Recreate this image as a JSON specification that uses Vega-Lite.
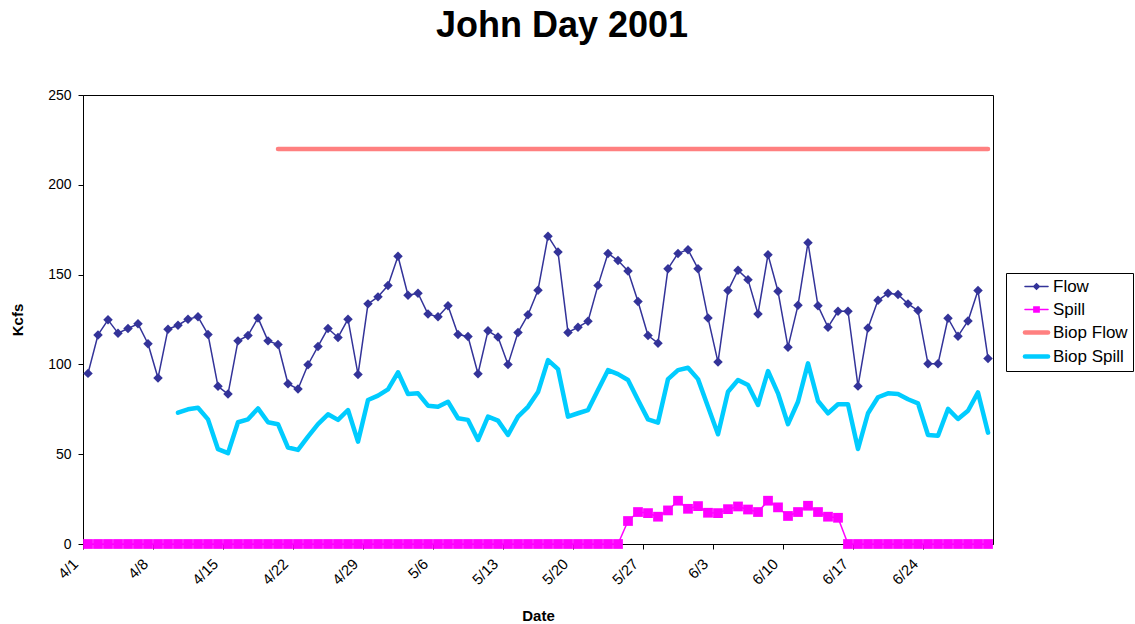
{
  "$schema": "https://vega.github.io/schema/vega-lite/v6.json",
  "width": 910,
  "height": 449,
  "autosize": {"type": "none"},
  "padding": {"left": 83, "top": 95, "right": 142, "bottom": 80},
  "background": "white",
  "title": {"text": "John Day 2001", "font": "Liberation Sans", "fontSize": 36, "fontWeight": "bold", "color": "black", "anchor": "middle", "frame": "group", "dx": 24, "baseline": "alphabetic", "offset": 15},
  "config": {
    "view": {"stroke": "black", "strokeWidth": 1},
    "axis": {"grid": false, "domainColor": "black", "tickColor": "black", "tickSize": 5, "labelColor": "black", "labelFont": "Liberation Sans", "labelFontSize": 14, "titleFont": "Liberation Sans", "titleFontSize": 15, "titleFontWeight": "bold", "titleColor": "black"}
  },
  "data": {"values": [
    {"date": "2001-04-01T12:00:00Z", "Flow": 95.0, "Spill": 0},
    {"date": "2001-04-02T12:00:00Z", "Flow": 116.4, "Spill": 0},
    {"date": "2001-04-03T12:00:00Z", "Flow": 124.8, "Spill": 0},
    {"date": "2001-04-04T12:00:00Z", "Flow": 117.4, "Spill": 0},
    {"date": "2001-04-05T12:00:00Z", "Flow": 120.0, "Spill": 0},
    {"date": "2001-04-06T12:00:00Z", "Flow": 122.6, "Spill": 0},
    {"date": "2001-04-07T12:00:00Z", "Flow": 111.5, "Spill": 0},
    {"date": "2001-04-08T12:00:00Z", "Flow": 92.4, "Spill": 0},
    {"date": "2001-04-09T12:00:00Z", "Flow": 119.6, "Spill": 0},
    {"date": "2001-04-10T12:00:00Z", "Flow": 121.8, "Spill": 0, "Biop Spill": 73.1},
    {"date": "2001-04-11T12:00:00Z", "Flow": 125.2, "Spill": 0, "Biop Spill": 75.0},
    {"date": "2001-04-12T12:00:00Z", "Flow": 126.5, "Spill": 0, "Biop Spill": 75.9},
    {"date": "2001-04-13T12:00:00Z", "Flow": 116.7, "Spill": 0, "Biop Spill": 69.4},
    {"date": "2001-04-14T12:00:00Z", "Flow": 87.8, "Spill": 0, "Biop Spill": 52.8},
    {"date": "2001-04-15T12:00:00Z", "Flow": 83.5, "Spill": 0, "Biop Spill": 50.6},
    {"date": "2001-04-16T12:00:00Z", "Flow": 113.1, "Spill": 0, "Biop Spill": 67.8},
    {"date": "2001-04-17T12:00:00Z", "Flow": 116.1, "Spill": 0, "Biop Spill": 69.4},
    {"date": "2001-04-18T12:00:00Z", "Flow": 125.9, "Spill": 0, "Biop Spill": 75.5},
    {"date": "2001-04-19T12:00:00Z", "Flow": 113.1, "Spill": 0, "Biop Spill": 67.8},
    {"date": "2001-04-20T12:00:00Z", "Flow": 111.1, "Spill": 0, "Biop Flow": 220, "Biop Spill": 66.7},
    {"date": "2001-04-21T12:00:00Z", "Flow": 89.2, "Spill": 0, "Biop Flow": 220, "Biop Spill": 53.7},
    {"date": "2001-04-22T12:00:00Z", "Flow": 86.3, "Spill": 0, "Biop Flow": 220, "Biop Spill": 52.4},
    {"date": "2001-04-23T12:00:00Z", "Flow": 99.8, "Spill": 0, "Biop Flow": 220, "Biop Spill": 59.8},
    {"date": "2001-04-24T12:00:00Z", "Flow": 110.0, "Spill": 0, "Biop Flow": 220, "Biop Spill": 66.8},
    {"date": "2001-04-25T12:00:00Z", "Flow": 120.0, "Spill": 0, "Biop Flow": 220, "Biop Spill": 72.2},
    {"date": "2001-04-26T12:00:00Z", "Flow": 115.0, "Spill": 0, "Biop Flow": 220, "Biop Spill": 69.1},
    {"date": "2001-04-27T12:00:00Z", "Flow": 125.2, "Spill": 0, "Biop Flow": 220, "Biop Spill": 74.6},
    {"date": "2001-04-28T12:00:00Z", "Flow": 94.4, "Spill": 0, "Biop Flow": 220, "Biop Spill": 57.0},
    {"date": "2001-04-29T12:00:00Z", "Flow": 133.7, "Spill": 0, "Biop Flow": 220, "Biop Spill": 80.2},
    {"date": "2001-04-30T12:00:00Z", "Flow": 137.6, "Spill": 0, "Biop Flow": 220, "Biop Spill": 82.6},
    {"date": "2001-05-01T12:00:00Z", "Flow": 143.9, "Spill": 0, "Biop Flow": 220, "Biop Spill": 86.1},
    {"date": "2001-05-02T12:00:00Z", "Flow": 160.2, "Spill": 0, "Biop Flow": 220, "Biop Spill": 95.6},
    {"date": "2001-05-03T12:00:00Z", "Flow": 138.5, "Spill": 0, "Biop Flow": 220, "Biop Spill": 83.5},
    {"date": "2001-05-04T12:00:00Z", "Flow": 139.6, "Spill": 0, "Biop Flow": 220, "Biop Spill": 83.9},
    {"date": "2001-05-05T12:00:00Z", "Flow": 128.0, "Spill": 0, "Biop Flow": 220, "Biop Spill": 77.0},
    {"date": "2001-05-06T12:00:00Z", "Flow": 126.5, "Spill": 0, "Biop Flow": 220, "Biop Spill": 76.4},
    {"date": "2001-05-07T12:00:00Z", "Flow": 132.6, "Spill": 0, "Biop Flow": 220, "Biop Spill": 79.2},
    {"date": "2001-05-08T12:00:00Z", "Flow": 116.7, "Spill": 0, "Biop Flow": 220, "Biop Spill": 70.0},
    {"date": "2001-05-09T12:00:00Z", "Flow": 115.5, "Spill": 0, "Biop Flow": 220, "Biop Spill": 69.1},
    {"date": "2001-05-10T12:00:00Z", "Flow": 94.8, "Spill": 0, "Biop Flow": 220, "Biop Spill": 57.9},
    {"date": "2001-05-11T12:00:00Z", "Flow": 118.7, "Spill": 0, "Biop Flow": 220, "Biop Spill": 70.9},
    {"date": "2001-05-12T12:00:00Z", "Flow": 115.2, "Spill": 0, "Biop Flow": 220, "Biop Spill": 68.7},
    {"date": "2001-05-13T12:00:00Z", "Flow": 100.0, "Spill": 0, "Biop Flow": 220, "Biop Spill": 60.7},
    {"date": "2001-05-14T12:00:00Z", "Flow": 117.8, "Spill": 0, "Biop Flow": 220, "Biop Spill": 70.9},
    {"date": "2001-05-15T12:00:00Z", "Flow": 127.6, "Spill": 0, "Biop Flow": 220, "Biop Spill": 76.4},
    {"date": "2001-05-16T12:00:00Z", "Flow": 141.3, "Spill": 0, "Biop Flow": 220, "Biop Spill": 84.6},
    {"date": "2001-05-17T12:00:00Z", "Flow": 171.4, "Spill": 0, "Biop Flow": 220, "Biop Spill": 102.4},
    {"date": "2001-05-18T12:00:00Z", "Flow": 162.6, "Spill": 0, "Biop Flow": 220, "Biop Spill": 97.4},
    {"date": "2001-05-19T12:00:00Z", "Flow": 117.8, "Spill": 0, "Biop Flow": 220, "Biop Spill": 70.9},
    {"date": "2001-05-20T12:00:00Z", "Flow": 120.7, "Spill": 0, "Biop Flow": 220, "Biop Spill": 72.8},
    {"date": "2001-05-21T12:00:00Z", "Flow": 124.0, "Spill": 0, "Biop Flow": 220, "Biop Spill": 74.6},
    {"date": "2001-05-22T12:00:00Z", "Flow": 144.0, "Spill": 0, "Biop Flow": 220, "Biop Spill": 85.7},
    {"date": "2001-05-23T12:00:00Z", "Flow": 161.8, "Spill": 0, "Biop Flow": 220, "Biop Spill": 96.8},
    {"date": "2001-05-24T12:00:00Z", "Flow": 157.8, "Spill": 0, "Biop Flow": 220, "Biop Spill": 94.6},
    {"date": "2001-05-25T12:00:00Z", "Flow": 152.0, "Spill": 12.8, "Biop Flow": 220, "Biop Spill": 91.3},
    {"date": "2001-05-26T12:00:00Z", "Flow": 135.0, "Spill": 17.8, "Biop Flow": 220, "Biop Spill": 80.2},
    {"date": "2001-05-27T12:00:00Z", "Flow": 116.1, "Spill": 17.2, "Biop Flow": 220, "Biop Spill": 69.4},
    {"date": "2001-05-28T12:00:00Z", "Flow": 111.8, "Spill": 15.2, "Biop Flow": 220, "Biop Spill": 67.6},
    {"date": "2001-05-29T12:00:00Z", "Flow": 153.3, "Spill": 18.7, "Biop Flow": 220, "Biop Spill": 91.8},
    {"date": "2001-05-30T12:00:00Z", "Flow": 161.8, "Spill": 24.1, "Biop Flow": 220, "Biop Spill": 96.8},
    {"date": "2001-05-31T12:00:00Z", "Flow": 163.9, "Spill": 19.6, "Biop Flow": 220, "Biop Spill": 98.1},
    {"date": "2001-06-01T12:00:00Z", "Flow": 153.3, "Spill": 21.1, "Biop Flow": 220, "Biop Spill": 91.8},
    {"date": "2001-06-02T12:00:00Z", "Flow": 125.9, "Spill": 17.4, "Biop Flow": 220, "Biop Spill": 76.4},
    {"date": "2001-06-03T12:00:00Z", "Flow": 101.3, "Spill": 17.2, "Biop Flow": 220, "Biop Spill": 61.1},
    {"date": "2001-06-04T12:00:00Z", "Flow": 141.1, "Spill": 19.4, "Biop Flow": 220, "Biop Spill": 84.8},
    {"date": "2001-06-05T12:00:00Z", "Flow": 152.4, "Spill": 20.9, "Biop Flow": 220, "Biop Spill": 91.3},
    {"date": "2001-06-06T12:00:00Z", "Flow": 147.2, "Spill": 19.2, "Biop Flow": 220, "Biop Spill": 88.5},
    {"date": "2001-06-07T12:00:00Z", "Flow": 128.1, "Spill": 17.8, "Biop Flow": 220, "Biop Spill": 77.4},
    {"date": "2001-06-08T12:00:00Z", "Flow": 161.1, "Spill": 24.1, "Biop Flow": 220, "Biop Spill": 96.3},
    {"date": "2001-06-09T12:00:00Z", "Flow": 140.7, "Spill": 20.4, "Biop Flow": 220, "Biop Spill": 83.9},
    {"date": "2001-06-10T12:00:00Z", "Flow": 109.6, "Spill": 15.6, "Biop Flow": 220, "Biop Spill": 66.7},
    {"date": "2001-06-11T12:00:00Z", "Flow": 132.9, "Spill": 17.8, "Biop Flow": 220, "Biop Spill": 79.2},
    {"date": "2001-06-12T12:00:00Z", "Flow": 167.8, "Spill": 21.3, "Biop Flow": 220, "Biop Spill": 100.6},
    {"date": "2001-06-13T12:00:00Z", "Flow": 132.6, "Spill": 17.8, "Biop Flow": 220, "Biop Spill": 79.6},
    {"date": "2001-06-14T12:00:00Z", "Flow": 120.7, "Spill": 15.2, "Biop Flow": 220, "Biop Spill": 72.8},
    {"date": "2001-06-15T12:00:00Z", "Flow": 129.6, "Spill": 14.6, "Biop Flow": 220, "Biop Spill": 77.8},
    {"date": "2001-06-16T12:00:00Z", "Flow": 129.6, "Spill": 0, "Biop Flow": 220, "Biop Spill": 77.8},
    {"date": "2001-06-17T12:00:00Z", "Flow": 87.9, "Spill": 0, "Biop Flow": 220, "Biop Spill": 52.9},
    {"date": "2001-06-18T12:00:00Z", "Flow": 120.3, "Spill": 0, "Biop Flow": 220, "Biop Spill": 72.8},
    {"date": "2001-06-19T12:00:00Z", "Flow": 135.7, "Spill": 0, "Biop Flow": 220, "Biop Spill": 81.7},
    {"date": "2001-06-20T12:00:00Z", "Flow": 139.6, "Spill": 0, "Biop Flow": 220, "Biop Spill": 83.9},
    {"date": "2001-06-21T12:00:00Z", "Flow": 138.9, "Spill": 0, "Biop Flow": 220, "Biop Spill": 83.5},
    {"date": "2001-06-22T12:00:00Z", "Flow": 133.7, "Spill": 0, "Biop Flow": 220, "Biop Spill": 80.6},
    {"date": "2001-06-23T12:00:00Z", "Flow": 130.0, "Spill": 0, "Biop Flow": 220, "Biop Spill": 78.3},
    {"date": "2001-06-24T12:00:00Z", "Flow": 100.3, "Spill": 0, "Biop Flow": 220, "Biop Spill": 60.7},
    {"date": "2001-06-25T12:00:00Z", "Flow": 100.3, "Spill": 0, "Biop Flow": 220, "Biop Spill": 60.3},
    {"date": "2001-06-26T12:00:00Z", "Flow": 125.7, "Spill": 0, "Biop Flow": 220, "Biop Spill": 75.2},
    {"date": "2001-06-27T12:00:00Z", "Flow": 115.7, "Spill": 0, "Biop Flow": 220, "Biop Spill": 69.6},
    {"date": "2001-06-28T12:00:00Z", "Flow": 124.2, "Spill": 0, "Biop Flow": 220, "Biop Spill": 74.2},
    {"date": "2001-06-29T12:00:00Z", "Flow": 141.1, "Spill": 0, "Biop Flow": 220, "Biop Spill": 84.4},
    {"date": "2001-06-30T12:00:00Z", "Flow": 103.3, "Spill": 0, "Biop Flow": 220, "Biop Spill": 62.0}
  ]},
  "transform": [
    {"fold": ["Flow", "Spill", "Biop Flow", "Biop Spill"], "as": ["series", "value"]},
    {"filter": "isValid(datum.value)"}
  ],
  "encoding": {
    "x": {
      "field": "date", "type": "temporal",
      "scale": {"type": "utc", "domain": [{"year": 2001, "month": 4, "date": 1, "utc": true}, {"year": 2001, "month": 7, "date": 1, "utc": true}]},
      "axis": {
        "title": "Date", "titlePadding": 21,
        "values": [
          {"year": 2001, "month": 4, "date": 1, "utc": true},
          {"year": 2001, "month": 4, "date": 8, "utc": true},
          {"year": 2001, "month": 4, "date": 15, "utc": true},
          {"year": 2001, "month": 4, "date": 22, "utc": true},
          {"year": 2001, "month": 4, "date": 29, "utc": true},
          {"year": 2001, "month": 5, "date": 6, "utc": true},
          {"year": 2001, "month": 5, "date": 13, "utc": true},
          {"year": 2001, "month": 5, "date": 20, "utc": true},
          {"year": 2001, "month": 5, "date": 27, "utc": true},
          {"year": 2001, "month": 6, "date": 3, "utc": true},
          {"year": 2001, "month": 6, "date": 10, "utc": true},
          {"year": 2001, "month": 6, "date": 17, "utc": true},
          {"year": 2001, "month": 6, "date": 24, "utc": true}
        ],
        "labelExpr": "utcFormat(datum.value, '%-m/%-d')",
        "labelFontSize": 15,
        "labelAngle": -45, "labelAlign": "right", "labelBaseline": "middle", "labelPadding": 12, "labelOffset": -8
      }
    },
    "y": {
      "field": "value", "type": "quantitative",
      "scale": {"domain": [0, 250]},
      "axis": {"title": "Kcfs", "values": [0, 50, 100, 150, 200, 250], "labelPadding": 7, "titlePadding": 22}
    },
    "color": {
      "field": "series", "type": "nominal",
      "scale": {"domain": ["Flow", "Spill", "Biop Flow", "Biop Spill"], "range": ["#333399", "#FF00FF", "#FF8080", "#00CCFF"]},
      "legend": {
        "title": null, "orient": "none", "legendX": 923, "legendY": 178,
        "strokeColor": "black", "fillColor": "white", "padding": 5,
        "labelFont": "Liberation Sans", "labelFontSize": 17, "labelColor": "black",
        "symbolSize": 100, "symbolOffset": 17, "labelOffset": 8, "rowPadding": 5,
        "symbolStrokeWidth": 1.5,
        "encode": {
          "symbols": {
            "update": {
              "size": {"value": 155},
              "shape": {"signal": "datum.value === 'Flow' ? 'M-1.85,0H1.85M0,-0.45L0.45,0L0,0.45L-0.45,0Z' : datum.value === 'Spill' ? 'M-1.85,0H1.85M-0.42,-0.42H0.42V0.42H-0.42Z' : 'M-1.85,0H1.85'"},
              "fill": {"signal": "datum.value === 'Flow' ? '#333399' : datum.value === 'Spill' ? '#FF00FF' : 'transparent'"},
              "stroke": {"signal": "datum.value === 'Flow' ? '#333399' : datum.value === 'Spill' ? '#FF00FF' : datum.value === 'Biop Flow' ? '#FF8080' : '#00CCFF'"},
              "strokeWidth": {"signal": "datum.value === 'Biop Flow' || datum.value === 'Biop Spill' ? 4.5 : 1.5"},
              "strokeCap": {"value": "round"},
              "opacity": {"value": 1}
            }
          }
        }
      }
    }
  },
  "layer": [
    {
      "transform": [{"filter": "datum.series === 'Flow' || datum.series === 'Spill'"}],
      "mark": {"type": "line", "strokeWidth": 1.5, "strokeJoin": "round"}
    },
    {
      "transform": [{"filter": "datum.series === 'Biop Flow' || datum.series === 'Biop Spill'"}],
      "mark": {"type": "line", "strokeWidth": 4.5, "strokeCap": "round", "strokeJoin": "round"}
    },
    {
      "transform": [{"filter": "datum.series === 'Flow' || datum.series === 'Spill'"}],
      "mark": {"type": "point", "filled": true, "opacity": 1},
      "encoding": {
        "shape": {"field": "series", "type": "nominal", "scale": {"domain": ["Flow", "Spill"], "range": ["diamond", "square"]}, "legend": null},
        "size": {"field": "series", "type": "nominal", "scale": {"domain": ["Flow", "Spill"], "range": [90, 95]}, "legend": null}
      }
    }
  ]
}
